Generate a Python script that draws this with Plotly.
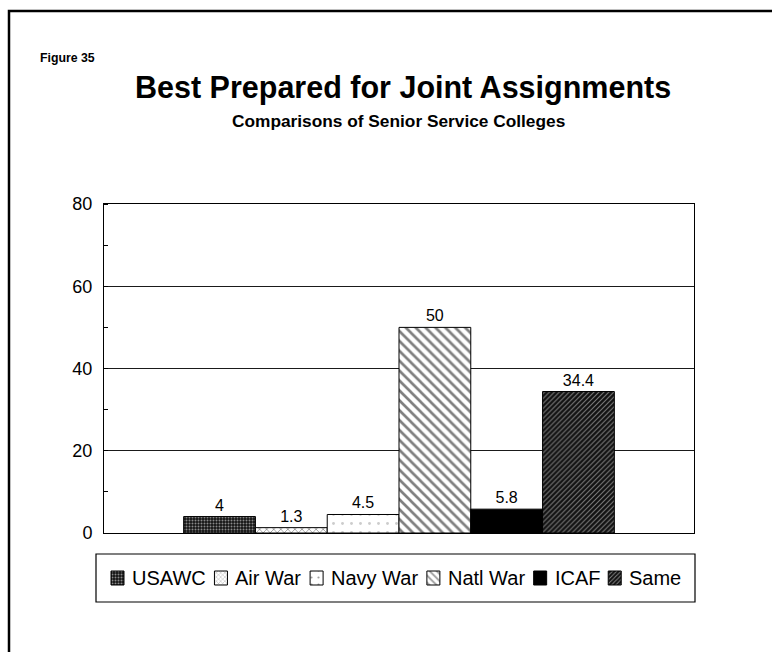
import plotly.graph_objects as go

W, H = 772, 652

# ---- data -------------------------------------------------------------
series = ["USAWC", "Air War", "Navy War", "Natl War", "ICAF", "Same"]
values = [4, 1.3, 4.5, 50, 5.8, 34.4]
y_ticks = [0, 20, 40, 60, 80]

figure_label = "Figure 35"
title_text = "Best Prepared for Joint Assignments"
subtitle_text = "Comparisons of Senior Service Colleges"

# ---- fill styles (one per series) ------------------------------------
fills = [
    dict(shape=".", fgcolor="white", bgcolor="#141414", size=3, solidity=0.35),
    dict(shape="x", fgcolor="black", bgcolor="white", size=5, solidity=0.25),
    dict(shape=".", fgcolor="#999999", bgcolor="white", size=9, solidity=0.08),
    dict(shape="\\", fgcolor="black", bgcolor="white", size=7, solidity=0.38),
    dict(shape="", fgcolor="black", bgcolor="black", size=8, solidity=0.3),
    dict(shape="/", fgcolor="#e8e8e8", bgcolor="#111111", size=3.5, solidity=0.3),
]

FONT = "Liberation Sans, Arial, Helvetica, sans-serif"

# plot area in page pixels
PL, PR, PT, PB = 104, 694, 204, 533


def px_x(x):
    return x / W


def px_y(y):
    return 1 - y / H


fig = go.Figure()

for name, val, f in zip(series, values, fills):
    fig.add_trace(go.Bar(
        x=["colleges"], y=[val], name=name,
        marker=dict(color=f["bgcolor"], line=dict(color="black", width=1),
                    pattern=f),
        texttemplate="%{y}", textposition="outside",
        textfont=dict(family=FONT, size=16, color="black"),
        cliponaxis=False, showlegend=False, hoverinfo="skip",
    ))

# ---- hand-laid legend row --------------------------------------------
ARIAL = {"U": 722, "S": 667, "A": 667, "W": 944, "C": 722, " ": 278,
         "i": 222, "r": 333, "N": 722, "a": 556, "v": 500, "y": 500,
         "t": 278, "l": 222, "I": 278, "F": 611, "m": 833, "e": 556}
LEG_FS = 20
SW, SH = 13, 14
LEG_Y = 578


def text_width(s, size):
    return sum(ARIAL.get(c, 556) for c in s) * size / 1000


sw_x, cursor = [], 111
annotations = []
for name in series:
    sw_x.append(cursor + SW / 2)
    tx = cursor + SW + 6
    annotations.append(dict(
        x=px_x(tx), y=px_y(LEG_Y), xref="paper", yref="paper",
        text=name, showarrow=False, xanchor="left", yanchor="middle",
        font=dict(family=FONT, size=LEG_FS, color="black")))
    cursor = tx + text_width(name, LEG_FS) + 10

fig.add_trace(go.Bar(
    x=sw_x, y=[SH] * len(series), base=[LEG_Y - SH / 2] * len(series),
    width=SW, xaxis="x2", yaxis="y2",
    marker=dict(
        color=[f["bgcolor"] for f in fills],
        line=dict(color="black", width=1),
        pattern=dict(shape=[f["shape"] for f in fills],
                     fgcolor=[f["fgcolor"] for f in fills],
                     bgcolor=[f["bgcolor"] for f in fills],
                     size=[max(3, f["size"] - 2) for f in fills],
                     solidity=[f["solidity"] for f in fills])),
    showlegend=False, hoverinfo="skip",
))

# ---- titles ------------------------------------------------------------
annotations += [
    dict(x=px_x(38), y=px_y(58), xref="paper", yref="paper",
         text=f"<b>{figure_label}</b>", showarrow=False,
         xanchor="left", yanchor="middle",
         font=dict(family=FONT, size=12.3, color="black")),
    dict(x=px_x(403), y=px_y(87), xref="paper", yref="paper",
         text=f"<b>{title_text}</b>", showarrow=False,
         xanchor="center", yanchor="middle",
         font=dict(family=FONT, size=30.5, color="black")),
    dict(x=px_x(399), y=px_y(121.5), xref="paper", yref="paper",
         text=f"<b>{subtitle_text}</b>", showarrow=False,
         xanchor="center", yanchor="middle",
         font=dict(family=FONT, size=17.3, color="black")),
]

shapes = [
    # outer frame
    dict(type="rect", xref="paper", yref="paper",
         x0=px_x(9), y0=px_y(11), x1=1.05, y1=-0.05,
         line=dict(color="black", width=2.5), fillcolor="rgba(0,0,0,0)"),
    # legend frame
    dict(type="rect", xref="paper", yref="paper",
         x0=px_x(96), y0=px_y(554), x1=px_x(695), y1=px_y(602),
         line=dict(color="black", width=1.2), fillcolor="rgba(0,0,0,0)"),
]

fig.update_layout(
    width=W, height=H,
    margin=dict(l=0, r=0, t=0, b=0, pad=0, autoexpand=False),
    paper_bgcolor="white", plot_bgcolor="rgba(0,0,0,0)",
    barmode="group", bargap=0.27, bargroupgap=0,
    showlegend=False,
    font=dict(family=FONT, color="black"),
    xaxis=dict(domain=[PL / W, PR / W], type="category",
               range=[-0.5, 0.5], showticklabels=False, ticks="",
               showline=True, mirror=True, linecolor="black", linewidth=1,
               showgrid=False, zeroline=False, fixedrange=True,
               automargin=False),
    yaxis=dict(domain=[1 - PB / H, 1 - PT / H], range=[0, 80],
               tickvals=y_ticks, ticks="", showline=True, mirror=True,
               linecolor="black", linewidth=1,
               showgrid=True, gridcolor="#1a1a1a", gridwidth=1,
               zeroline=False, fixedrange=True, automargin=False,
               tickfont=dict(family=FONT, size=18, color="black"),
               ticklabelstandoff=7,
               minor=dict(ticks="inside", ticklen=4, dtick=10, tick0=0,
                          tickcolor="black", showgrid=False)),
    xaxis2=dict(domain=[0, 1], range=[0, W], visible=False,
                anchor="y2", fixedrange=True, automargin=False),
    yaxis2=dict(domain=[0, 1], range=[H, 0], visible=False,
                anchor="x2", fixedrange=True, automargin=False),
    annotations=annotations,
    shapes=shapes,
)

fig.write_html("out.html")
